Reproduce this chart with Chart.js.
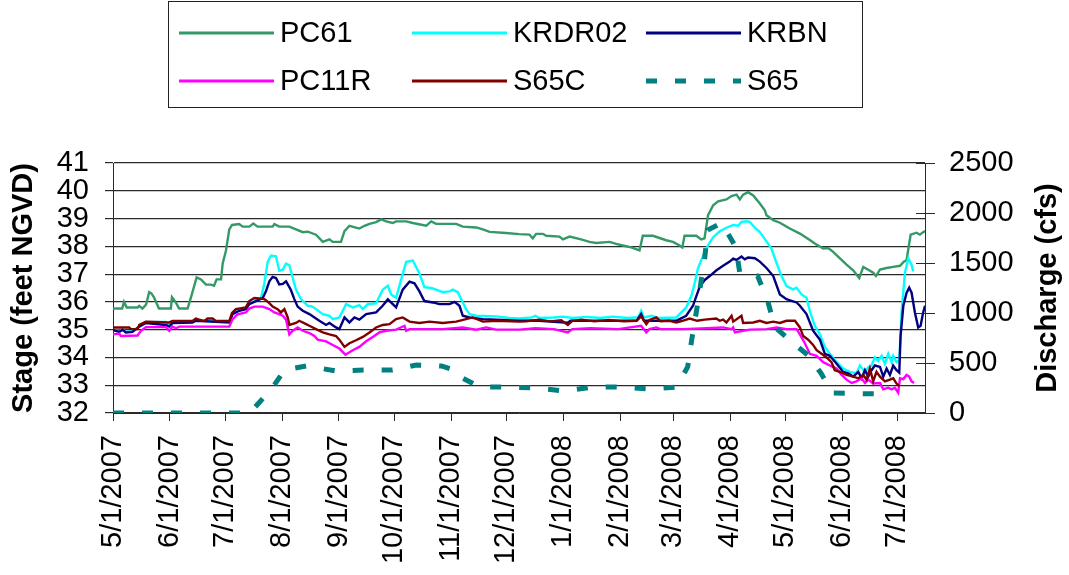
<!DOCTYPE html>
<html>
<head>
<meta charset="utf-8">
<title>Stage and discharge, May 2007 - July 2008</title>
<script src="https://cdn.jsdelivr.net/npm/chart.js@4/dist/chart.umd.min.js"></script>
<style>
  html, body { margin: 0; padding: 0; background: #fff; overflow: hidden; }
  #wrap { width: 1069px; height: 575px; }
</style>
</head>
<body>
<div id="wrap"><canvas id="c" width="1069" height="575"></canvas></div>
<script>
// Days counted from 5/1/2007; month starts used for the date axis.
const monthDays = [0, 31, 61, 92, 123, 153, 184, 214, 245, 276, 305, 336, 366, 397, 427];
const monthLabels = ['5/1/2007', '6/1/2007', '7/1/2007', '8/1/2007', '9/1/2007', '10/1/2007',
  '11/1/2007', '12/1/2007', '1/1/2008', '2/1/2008', '3/1/2008', '4/1/2008', '5/1/2008',
  '6/1/2008', '7/1/2008'];
const lastDay = 442;

// Axis tick values
const stageTicks = [32, 33, 34, 35, 36, 37, 38, 39, 40, 41];
const dischargeTicks = [0, 500, 1000, 1500, 2000, 2500];

// Stage, feet NGVD: [day, stage]
const pc61 = [[0,35.76],[5,35.76],[6,36.0],[7.5,35.8],[13.4,35.8],[14.3,35.86],[16,35.76],[18,35.9],[19.7,36.35],[21,36.3],[22.4,36.15],[25,35.76],[31.5,35.76],[32.1,36.17],[34.2,35.98],[36,35.76],[40.6,35.76],[42.4,36.15],[45.5,36.88],[47.9,36.81],[50.6,36.62],[53.3,36.62],[55,36.58],[56.4,36.81],[58.8,36.81],[59.7,37.38],[61.5,37.85],[63.3,38.61],[64.8,38.77],[68.7,38.8],[70.6,38.71],[74.2,38.71],[76.4,38.82],[78.7,38.71],[86.9,38.71],[87.8,38.8],[90.5,38.71],[96,38.71],[99.6,38.61],[103.3,38.51],[106,38.53],[110.5,38.42],[114.2,38.16],[117.8,38.25],[119.6,38.16],[124.1,38.16],[126,38.55],[128.7,38.74],[134.1,38.64],[136.9,38.74],[139.6,38.81],[143.2,38.87],[146,38.97],[148.7,38.9],[152.3,38.84],[154.1,38.9],[159.6,38.9],[163.2,38.84],[170.5,38.74],[173.2,38.9],[175.9,38.81],[186.8,38.81],[190.4,38.71],[197.7,38.68],[201.3,38.61],[205,38.52],[214,38.48],[221,38.44],[226.7,38.42],[228.5,38.29],[230.3,38.45],[234,38.45],[235.8,38.38],[243,38.35],[244.9,38.25],[248.5,38.35],[254.8,38.25],[259.4,38.16],[263,38.12],[270.3,38.16],[273.9,38.09],[277.5,38.03],[282.1,37.96],[286.6,37.85],[288.4,38.38],[293.9,38.38],[301.1,38.22],[304.8,38.16],[308.4,38.03],[309.9,37.96],[311.1,38.38],[317.5,38.38],[320.2,38.25],[322,38.29],[323.9,39.12],[326.7,39.48],[329.4,39.62],[333.9,39.69],[336.7,39.81],[339.4,39.86],[341.2,39.69],[343,39.86],[345.7,39.95],[348.5,39.83],[352.1,39.54],[354.8,39.3],[355.7,39.12],[359.4,38.94],[363,38.85],[368.4,38.64],[373.9,38.46],[379.3,38.23],[382,38.1],[386.6,37.92],[389.3,37.94],[392,37.8],[395.7,37.57],[399.3,37.34],[402.9,37.14],[406.2,36.86],[408.4,37.26],[411.1,37.16],[413.8,37.05],[415.3,36.93],[417.5,37.16],[421.1,37.22],[424.7,37.26],[428.4,37.3],[430.5,37.45],[432,37.51],[433.1,37.98],[434.2,38.42],[437.4,38.49],[439.2,38.42],[441,38.51],[442,38.55]];

const krdr02 = [[0,34.99],[3.4,34.95],[5.2,35.0],[7,34.93],[10.6,34.95],[14.3,35.11],[17.9,35.28],[28.8,35.28],[30.6,35.15],[32.4,35.26],[43.3,35.28],[45.1,35.33],[63.3,35.29],[65.1,35.58],[68.7,35.7],[72.3,35.76],[74.2,35.95],[77.8,36.05],[80.5,36.12],[82.4,36.67],[84.2,37.44],[86,37.67],[88.7,37.64],[90.5,37.12],[92.4,37.16],[94.2,37.38],[96,37.32],[97.4,36.97],[99.6,36.44],[102.3,36.1],[106,35.86],[108,35.85],[110.5,35.74],[114.2,35.56],[117.8,35.5],[119.6,35.38],[123.2,35.44],[126.9,35.92],[130.5,35.8],[134.1,35.88],[136,35.74],[138.7,35.92],[143.2,35.95],[146.8,36.44],[149.6,36.58],[151.4,36.27],[154.1,36.15],[156.8,36.79],[159.6,37.44],[163.2,37.49],[166.8,37.02],[169.5,36.53],[173.2,36.5],[175.9,36.44],[179.5,36.35],[183.2,36.38],[185,36.44],[187.7,36.35],[190.4,35.98],[192.2,35.74],[194.1,35.56],[197.7,35.5],[208.6,35.48],[215.9,35.42],[221.3,35.4],[228,35.44],[230,35.5],[232,35.42],[240,35.44],[245,35.47],[250,35.42],[258,35.46],[265,35.42],[272,35.47],[280,35.42],[286,35.45],[287.5,35.68],[289,35.44],[293,35.5],[297,35.42],[306.6,35.44],[308.4,35.56],[312,35.8],[314.8,36.21],[316.6,36.67],[318.4,37.2],[320.2,37.5],[323.9,38.04],[326.7,38.33],[330.3,38.54],[333.9,38.67],[337.6,38.77],[340.3,38.74],[342.1,38.88],[344.8,38.9],[346.6,38.88],[349.4,38.67],[352.1,38.51],[355.7,38.18],[358.4,37.92],[361.2,37.4],[363.9,36.93],[366.6,36.57],[370.2,36.45],[372.1,36.51],[374.8,36.27],[377.5,36.15],[379.3,35.68],[382,35.14],[384.8,34.83],[387.5,34.38],[390.2,34.13],[393.9,33.83],[397.5,33.6],[401.1,33.48],[404.7,33.43],[406.6,33.71],[409.3,33.48],[411.1,33.65],[412.9,33.71],[414.7,34.0],[416.5,33.88],[418.4,34.06],[420.2,33.77],[422,34.13],[423.8,33.83],[424.7,34.06],[426.5,33.83],[428,33.9],[429.3,35.67],[431.1,37.05],[432.9,37.57],[434.7,37.33],[435.6,37.1]];

const krbn = [[0,34.99],[3.4,34.92],[5.2,35.0],[7,34.9],[10.6,34.92],[14.3,35.11],[17.9,35.24],[28.8,35.17],[30.6,35.11],[32.4,35.24],[43.3,35.26],[45.1,35.32],[63.3,35.26],[65.1,35.56],[68.7,35.68],[72.3,35.74],[74.2,35.92],[77.8,36.03],[81.5,36.14],[83.3,36.39],[85.1,36.74],[86.9,36.9],[88.7,36.86],[90.5,36.63],[92.4,36.65],[94.2,36.74],[96,36.53],[96.9,36.42],[98.7,36.1],[100.5,35.83],[103.3,35.68],[106.9,35.56],[112.3,35.32],[116,35.17],[117.8,35.24],[121.4,35.08],[123.2,35.02],[126,35.44],[128.7,35.26],[131.4,35.44],[134.1,35.36],[137.8,35.56],[143.2,35.62],[146.8,35.86],[149.6,36.09],[152.3,35.92],[154.1,35.8],[157.7,36.44],[161.4,36.73],[164.1,36.67],[166.8,36.38],[169.5,36.03],[174.1,35.98],[177.7,35.92],[183.2,35.92],[185.9,36.0],[188.6,35.86],[190.4,35.5],[194.1,35.44],[201.3,35.38],[208.6,35.36],[221.3,35.32],[230,35.33],[247.6,35.25],[249,35.32],[285,35.32],[287.5,35.56],[289,35.32],[306.6,35.32],[308.4,35.38],[312,35.5],[315.7,35.86],[317.5,36.2],[319.4,36.55],[322.1,36.79],[324.8,36.93],[328.5,37.14],[332.1,37.3],[335.7,37.45],[337.6,37.56],[339.4,37.51],[342.1,37.63],[343.9,37.53],[345.7,37.6],[349.4,37.57],[352.1,37.45],[355.7,37.22],[359.4,36.93],[363,36.27],[366.6,36.1],[369.3,36.04],[372.1,35.98],[373.9,35.86],[377.5,35.56],[381.1,34.96],[384.8,34.64],[387.5,34.13],[390.2,34.06],[393.9,33.77],[397.5,33.48],[400.2,33.43],[402.9,33.31],[405.7,33.48],[407.5,33.25],[409.3,33.54],[411.1,33.31],[412.9,33.54],[414.7,33.71],[417.5,33.66],[419.3,33.31],[421.1,33.6],[422.9,33.37],[424.7,33.71],[426.5,33.54],[428,33.45],[428.7,34.77],[430.2,35.86],[432,36.33],[433.4,36.51],[434.7,36.33],[436.5,35.62],[438.3,35.08],[439.6,35.14],[441,35.62],[442,35.86]];

const pc11r = [[0,34.83],[3.4,34.86],[4.3,34.77],[13.4,34.79],[15.2,34.96],[17.9,35.09],[28.8,35.09],[30.6,34.96],[32.4,35.11],[34.2,35.05],[36.1,35.11],[63.3,35.11],[65.1,35.38],[67.8,35.55],[72.3,35.62],[74.2,35.76],[76.9,35.83],[81.5,35.83],[85.1,35.74],[87.8,35.62],[90.5,35.56],[92.4,35.5],[94.2,35.36],[96,34.83],[97.8,34.96],[100.5,35.08],[103.3,34.96],[106.9,34.88],[109.6,34.77],[111.4,34.64],[116,34.58],[119.6,34.45],[123.2,34.32],[126.5,34.1],[130.5,34.26],[134.1,34.38],[137.8,34.58],[141.4,34.74],[145,34.9],[148.7,34.96],[154.1,35.0],[158.7,35.14],[159.6,34.96],[161.4,35.02],[172.3,35.02],[179.5,35.02],[190.4,35.08],[197.7,35.0],[203.1,35.08],[208.6,35.0],[221.3,35.0],[230,35.05],[240,35.02],[247.6,34.9],[250,35.02],[260,35.05],[275,35.02],[287.5,35.14],[290.3,34.9],[292,35.02],[295.7,35.08],[298,35.02],[310,35.02],[320,35.04],[332.1,35.08],[336.7,35.02],[337.6,35.08],[338.5,34.9],[343,34.96],[346.6,35.0],[355.7,35.02],[361.2,35.08],[366.6,35.02],[372.1,35.02],[373.9,34.83],[376.6,34.51],[379.3,34.13],[383,34.06],[386.6,33.83],[390.2,33.71],[393.9,33.6],[396.6,33.37],[399.3,33.2],[402,33.08],[404.7,33.14],[407.5,33.25],[409.3,33.08],[411.1,33.2],[413.8,33.06],[417.5,33.08],[419.3,32.85],[422,32.91],[423.8,32.85],[425.6,32.91],[427.4,32.73],[428.4,33.25],[430.2,33.22],[432,33.37],[433.4,33.31],[434.7,33.14],[436,33.08]];

const s65c = [[0,35.08],[8.8,35.08],[9.7,35.02],[13.4,35.02],[14.3,35.17],[17.9,35.29],[30.6,35.26],[32.4,35.31],[43.3,35.31],[45.1,35.4],[46.9,35.36],[49.7,35.31],[51.5,35.4],[54.2,35.4],[56,35.31],[63.3,35.31],[64.8,35.6],[66.9,35.74],[72.3,35.8],[74.2,36.03],[76.9,36.14],[79.6,36.12],[82.4,36.1],[84.7,35.98],[86.9,35.83],[89.6,35.74],[91.4,35.62],[93.3,35.74],[95.1,35.44],[96,35.17],[99.6,35.24],[101.4,35.32],[105.1,35.2],[106.9,35.14],[110.5,35.02],[114.2,34.9],[117.8,34.83],[121.4,34.77],[123.2,34.64],[126,34.38],[128.7,34.51],[132.3,34.62],[136,34.74],[139.6,34.9],[143.2,35.08],[146.8,35.17],[150.5,35.2],[154.1,35.38],[157.7,35.44],[161.4,35.29],[166.8,35.24],[172.3,35.29],[179.5,35.24],[186.8,35.29],[195.9,35.44],[201.3,35.29],[208.6,35.32],[221.3,35.29],[225,35.3],[232,35.36],[238,35.3],[244,35.34],[247.6,35.17],[250,35.32],[255,35.36],[262,35.3],[270,35.35],[278,35.3],[285,35.32],[287.5,35.48],[290.3,35.2],[292,35.35],[295.7,35.44],[298,35.3],[303,35.32],[306.6,35.26],[310,35.32],[313.9,35.4],[318,35.32],[322,35.36],[328.4,35.4],[330.2,35.32],[332.1,35.36],[333.9,35.26],[336.7,35.5],[337.6,35.29],[342.1,35.5],[343,35.24],[348.5,35.26],[352.1,35.32],[355.7,35.24],[359.4,35.29],[363,35.24],[366.6,35.32],[371.2,35.32],[373.9,35.08],[375.7,34.77],[378.4,34.64],[381.1,34.45],[383,34.26],[385.7,34.13],[388.4,34.0],[391.1,33.83],[392.9,33.54],[395.7,33.48],[399.3,33.37],[402.9,33.31],[405.7,33.25],[408.4,33.37],[410.2,33.2],[412,33.6],[413.8,33.14],[415.6,33.48],[417.5,33.31],[420.2,33.14],[422.9,33.2],[424.7,33.25],[426.5,33.06],[428,32.97]];

// Discharge at S65, cfs: [day, discharge]
const s65 = [[0,0],[74.2,0],[76.9,50],[86.7,250],[93.3,430],[105.3,470],[121.6,420],[136.8,430],[152.1,430],[165.2,480],[178.8,470],[188.6,410],[190.2,350],[199.5,260],[214.7,260],[230.5,250],[245.8,220],[261.1,260],[276.8,260],[292.1,240],[306.8,260],[312.8,460],[315,730],[317.7,1030],[322.1,1550],[323.7,1830],[331.3,1900],[333,1850],[339,1660],[341.2,1400],[350.9,1370],[356.4,1120],[360.2,860],[369.5,710],[378.2,580],[385.3,400],[391.8,200],[417.4,190]];

const FONT = "'Liberation Sans', Arial, Helvetica, sans-serif";
const AXIS_COLOR = '#2a2a2a';

const toPoints = (pairs) => pairs.map(([d, v]) => ({ x: d, y: v }));

function lineSet(label, pairs, color, order, extra) {
  return Object.assign({
    label: label,
    data: toPoints(pairs),
    borderColor: color,
    backgroundColor: color,
    borderWidth: 2.4,
    pointRadius: 0,
    tension: 0,
    fill: false,
    yAxisID: 'y',
    order: order
  }, extra || {});
}

// Boxed two-row legend above the plot, plus the right-hand axis title
// (read bottom-to-top like the left one) and the inward half of the right ticks.
const decorations = {
  id: 'decorations',
  afterDraw(chart) {
    const ctx = chart.ctx;
    ctx.save();
    ctx.strokeStyle = '#222';
    ctx.lineWidth = 1;
    ctx.strokeRect(168.5, 1.5, 694, 106);

    const cols = [179, 412, 646];
    const rows = [33, 81];
    chart.data.datasets.forEach((ds, i) => {
      const x = cols[i % 3];
      const y = rows[Math.floor(i / 3)];
      ctx.beginPath();
      ctx.setLineDash(ds.borderDash || []);
      ctx.lineWidth = ds.borderDash ? ds.borderWidth : 3;
      ctx.strokeStyle = ds.borderColor;
      ctx.moveTo(x, y);
      ctx.lineTo(x + 95, y);
      ctx.stroke();
      ctx.setLineDash([]);
      ctx.fillStyle = '#000';
      ctx.font = '29px ' + FONT;
      ctx.textAlign = 'left';
      ctx.textBaseline = 'middle';
      ctx.fillText(ds.label, x + 101, y + 1);
    });

    const y1 = chart.scales.y1;
    ctx.strokeStyle = AXIS_COLOR;
    ctx.lineWidth = 1;
    y1.ticks.forEach((t) => {
      const py = Math.round(y1.getPixelForValue(t.value)) + 0.5;
      ctx.beginPath();
      ctx.moveTo(y1.left - 9, py);
      ctx.lineTo(y1.left, py);
      ctx.stroke();
    });

    ctx.translate(1048, 288);
    ctx.rotate(-Math.PI / 2);
    ctx.fillStyle = '#000';
    ctx.font = 'bold 29px ' + FONT;
    ctx.textAlign = 'center';
    ctx.textBaseline = 'middle';
    ctx.fillText('Discharge (cfs)', 0, 0);
    ctx.restore();
  }
};

const tickFont = { family: FONT, size: 29 };

new Chart(document.getElementById('c').getContext('2d'), {
  type: 'line',
  data: {
    datasets: [
      lineSet('PC61', pc61, '#339966', 6),
      lineSet('KRDR02', krdr02, '#00FFFF', 5),
      lineSet('KRBN', krbn, '#000080', 4),
      lineSet('PC11R', pc11r, '#FF00FF', 3),
      lineSet('S65C', s65c, '#800000', 2),
      lineSet('S65', s65, '#008080', 1, { yAxisID: 'y1', borderWidth: 5, borderDash: [11, 18], borderCapStyle: 'butt' })
    ]
  },
  options: {
    responsive: false,
    animation: false,
    events: [],
    layout: { padding: { top: 163, left: 0, right: 0, bottom: 0 } },
    plugins: { legend: { display: false }, tooltip: { enabled: false } },
    scales: {
      x: {
        type: 'linear',
        position: 'bottom',
        min: 0,
        max: lastDay,
        afterBuildTicks(scale) { scale.ticks = monthDays.map((v) => ({ value: v })); },
        afterFit(scale) { scale.height = 162; },
        ticks: {
          autoSkip: false,
          minRotation: 90,
          maxRotation: 90,
          padding: 14,
          color: '#000',
          font: tickFont,
          callback: (v) => monthLabels[monthDays.indexOf(v)]
        },
        grid: { drawOnChartArea: false, drawTicks: true, tickLength: 8, color: AXIS_COLOR },
        border: { color: AXIS_COLOR, width: 1 }
      },
      y: {
        position: 'left',
        min: 32,
        max: 41,
        afterBuildTicks(scale) { scale.ticks = stageTicks.map((v) => ({ value: v })); },
        afterFit(scale) { scale.width = 113; },
        ticks: { autoSkip: false, padding: 16, color: '#000', font: tickFont, callback: (v) => String(v) },
        grid: { color: AXIS_COLOR, lineWidth: 1.2, tickLength: 8 },
        border: { color: AXIS_COLOR, width: 1 },
        title: {
          display: true,
          text: 'Stage (feet NGVD)',
          color: '#000',
          font: { family: FONT, size: 29, weight: 'bold' },
          padding: { top: 7, bottom: 0 }
        }
      },
      y1: {
        position: 'right',
        min: 0,
        max: 2500,
        afterBuildTicks(scale) { scale.ticks = dischargeTicks.map((v) => ({ value: v })); },
        afterFit(scale) { scale.width = 144; },
        ticks: { autoSkip: false, padding: 14, color: '#000', font: tickFont, callback: (v) => String(v) },
        grid: { drawOnChartArea: false, tickLength: 10, color: AXIS_COLOR },
        border: { color: AXIS_COLOR, width: 1 }
      }
    }
  },
  plugins: [decorations]
});
</script>
</body>
</html>
